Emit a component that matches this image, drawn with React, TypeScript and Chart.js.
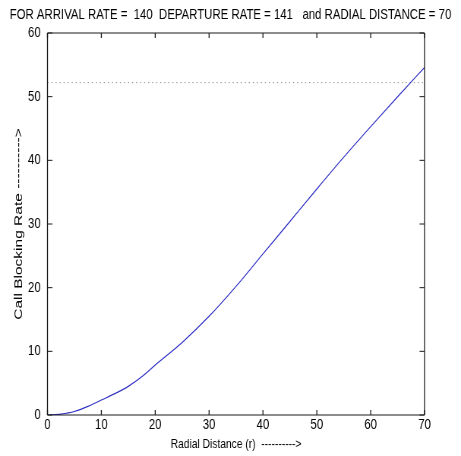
import React, { useEffect, useRef } from "react";
import { Chart, registerables } from "chart.js";

Chart.register(...registerables);

// ---- data ----
const radialDistance = [0, 2.5, 5, 7.5, 10, 12.5, 15, 17.5, 20, 25, 30, 35, 40, 45, 50, 55, 60, 65, 70];
const callBlockingRate = [0, 0.15, 0.55, 1.35, 2.35, 3.35, 4.5, 6.0, 7.85, 11.4, 15.5, 20.2, 25.3, 30.4, 35.5, 40.5, 45.3, 50.0, 54.6];
const thresholdX = [0, 70];
const thresholdY = [52.2, 52.2];
const xTickValues = [0, 10, 20, 30, 40, 50, 60, 70];
const yTickValues = [0, 10, 20, 30, 40, 50, 60];
const titleText = "FOR ARRIVAL RATE =  140  DEPARTURE RATE = 141   and RADIAL DISTANCE = 70";
const xTitle = "Radial Distance (r)  ---------->";
const yTitle = "Call Blocking Rate ---------->";

const SX = 0.76;
const LOGICAL_W = Math.round(461 / SX);
const H = 456;
const FONT = "'Liberation Sans', Arial, sans-serif";

const framePlugin = {
  id: "matlabFrame",
  afterDraw(chart: any) {
    const { ctx, chartArea, scales } = chart;
    const { left, right, top, bottom } = chartArea;
    const xs = scales.x;
    const ys = scales.y;
    ctx.save();
    ctx.strokeStyle = "#1a1a1a";
    ctx.lineWidth = 1;
    ctx.beginPath();
    ctx.moveTo(left, top);
    ctx.lineTo(right, top);
    ctx.moveTo(left, bottom);
    ctx.lineTo(right, bottom);
    ctx.stroke();
    ctx.lineWidth = 1.3;
    ctx.beginPath();
    ctx.moveTo(left, top);
    ctx.lineTo(left, bottom);
    ctx.moveTo(right, top);
    ctx.lineTo(right, bottom);
    ctx.stroke();
    ctx.lineWidth = 1.3;
    ctx.beginPath();
    xTickValues.forEach((v) => {
      const px = xs.getPixelForValue(v);
      ctx.moveTo(px, bottom);
      ctx.lineTo(px, bottom - 5);
      ctx.moveTo(px, top);
      ctx.lineTo(px, top + 5);
    });
    ctx.stroke();
    ctx.lineWidth = 1;
    ctx.beginPath();
    yTickValues.forEach((v) => {
      const py = ys.getPixelForValue(v);
      ctx.moveTo(left, py);
      ctx.lineTo(left + 5 / SX, py);
      ctx.moveTo(right, py);
      ctx.lineTo(right - 5 / SX, py);
    });
    ctx.stroke();
    ctx.restore();
  },
};

export default function App() {
  const canvasRef = useRef<HTMLCanvasElement | null>(null);

  useEffect(() => {
    const canvas = canvasRef.current;
    if (!canvas) return;
    document.body.style.overflow = "hidden";
    const chart = new Chart(canvas, {
      type: "line",
      data: {
        datasets: [
          {
            label: "Call Blocking Rate",
            data: radialDistance.map((x, i) => ({ x, y: callBlockingRate[i] })),
            borderColor: "#3030c4",
            borderWidth: 1.2,
            pointRadius: 0,
            cubicInterpolationMode: "monotone",
            fill: false,
          },
          {
            label: "Threshold",
            data: thresholdX.map((x, i) => ({ x, y: thresholdY[i] })),
            borderColor: "#8a8a7a",
            borderWidth: 1,
            borderDash: [1.5, 3.8],
            pointRadius: 0,
            fill: false,
          },
        ],
      },
      options: {
        responsive: false,
        animation: false,
        devicePixelRatio: 1,
        layout: { padding: 0 },
        plugins: {
          legend: { display: false },
          tooltip: { enabled: false },
          title: {
            display: true,
            text: titleText,
            color: "#000",
            font: { family: FONT, size: 15, weight: "normal" },
            padding: { top: 6, bottom: 9 },
          },
        },
        scales: {
          x: {
            type: "linear",
            min: 0,
            max: 70,
            afterBuildTicks: (s: any) => {
              s.ticks = xTickValues.map((v) => ({ value: v }));
            },
            ticks: {
              color: "#000",
              padding: 1,
              maxRotation: 0,
              font: { family: FONT, size: 15 },
            },
            grid: { display: false, drawTicks: false },
            border: { display: false },
            title: {
              display: true,
              text: xTitle,
              color: "#000",
              font: { family: FONT, size: 13.5 },
              padding: { top: 0, bottom: 4 },
            },
            afterFit: (s: any) => {
              s.height = 41;
            },
          },
          y: {
            type: "linear",
            min: 0,
            max: 60,
            afterBuildTicks: (s: any) => {
              s.ticks = yTickValues.map((v) => ({ value: v }));
            },
            ticks: {
              color: "#000",
              padding: 9,
              font: { family: FONT, size: 15 },
            },
            grid: { display: false, drawTicks: false },
            border: { display: false },
            title: {
              display: true,
              text: yTitle,
              color: "#000",
              font: { family: FONT, size: 15.5 },
              padding: { top: 15.7, bottom: 0 },
            },
            afterFit: (s: any) => {
              s.width = 62.5;
            },
          },
          yRight: {
            type: "linear",
            position: "right",
            min: 0,
            max: 60,
            ticks: { display: false },
            grid: { display: false, drawTicks: false },
            border: { display: false },
            afterFit: (s: any) => {
              s.width = 48;
            },
          },
        },
      },
      plugins: [framePlugin],
    } as any);
    return () => chart.destroy();
  }, []);

  return (
    <div
      style={{
        position: "fixed",
        left: 0,
        top: 0,
        width: 461,
        height: H,
        overflow: "hidden",
        background: "#fff",
      }}
    >
      <div
        style={{
          width: LOGICAL_W,
          height: H,
          transform: `scaleX(${461 / LOGICAL_W})`,
          transformOrigin: "0 0",
        }}
      >
        <canvas ref={canvasRef} width={LOGICAL_W} height={H} style={{ display: "block" }} />
      </div>
    </div>
  );
}
